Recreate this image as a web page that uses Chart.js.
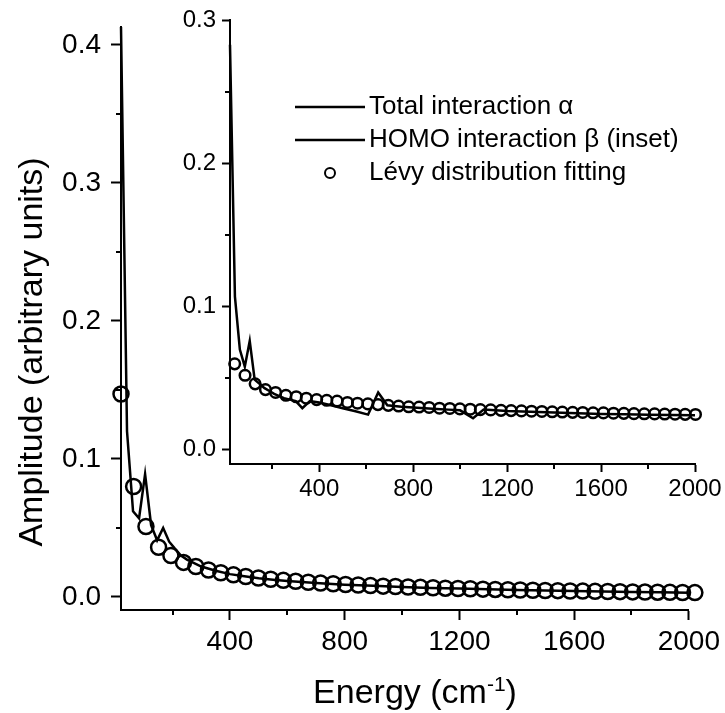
<!DOCTYPE html>
<html>
<head>
<meta charset="utf-8">
<script src="https://cdn.jsdelivr.net/npm/chart.js@4"></script>
<style>
  body { margin: 0; background: #fff; }
  #wrap { position: relative; width: 725px; height: 713px; }
  #chart-main { position: absolute; left: 0; top: 0; }
  #chart-inset { position: absolute; left: 170px; top: 0; }
</style>
</head>
<body>
<div id="wrap">
  <canvas id="chart-main" width="725" height="713"></canvas>
  <canvas id="chart-inset" width="555" height="520"></canvas>
</div>
<script>
const totalLabel = 'Total interaction \u03b1';
const homoLabel = 'HOMO interaction \u03b2 (inset)';
const fitLabel = 'L\u00e9vy distribution fitting';
const xTitle = ['Energy (cm', '-1', ')'];
const yTitle = 'Amplitude (arbitrary units)';

// main panel: total interaction
const totalEnergy = [20, 41, 62, 83, 104, 125, 146, 167, 188, 208, 229, 250, 300, 350, 400, 450, 500,
  550, 600, 700, 800, 900, 1000, 1100, 1200, 1300, 1400, 1500, 1600, 1700, 1800, 1900, 2000];
const totalAmp = [0.413, 0.120, 0.062, 0.057, 0.089, 0.052, 0.041, 0.050, 0.040, 0.035, 0.030, 0.027,
  0.022, 0.019, 0.0165, 0.015, 0.0135, 0.0125, 0.0115, 0.010, 0.0088, 0.008, 0.0072, 0.0065, 0.006,
  0.0055, 0.005, 0.0046, 0.0042, 0.0039, 0.0036, 0.0033, 0.003];

const fitEnergy = [20, 64, 107, 151, 194, 238, 281, 325, 368, 412, 455, 499, 542, 586, 629, 673, 716,
  760, 803, 847, 890, 934, 977, 1021, 1064, 1108, 1151, 1195, 1238, 1282, 1325, 1369, 1412, 1456, 1499,
  1543, 1586, 1630, 1673, 1717, 1760, 1804, 1847, 1891, 1934, 1978, 2021];
const fitAmp = [0.147, 0.080, 0.051, 0.036, 0.030, 0.025, 0.022, 0.0195, 0.0175, 0.016, 0.0148, 0.0137,
  0.0128, 0.012, 0.0113, 0.0106, 0.0100, 0.0095, 0.0090, 0.0086, 0.0082, 0.0078, 0.0075, 0.0072, 0.0069,
  0.0066, 0.0063, 0.0061, 0.0059, 0.0056, 0.0054, 0.0052, 0.0050, 0.0048, 0.0046, 0.0045, 0.0043, 0.0042,
  0.0040, 0.0039, 0.0038, 0.0036, 0.0035, 0.0034, 0.0033, 0.0032, 0.0031];

// inset: HOMO interaction
const homoEnergy = [20, 41, 62, 83, 104, 125, 146, 167, 188, 208, 250, 300, 328, 360, 400, 450, 500, 550,
  608, 651, 690, 750, 800, 850, 900, 950, 1000, 1055, 1100, 1150, 1200, 1300, 1400, 1500, 1600, 1700,
  1800, 1900, 2000];
const homoAmp = [0.283, 0.107, 0.070, 0.058, 0.076, 0.049, 0.046, 0.043, 0.041, 0.039, 0.036, 0.034,
  0.029, 0.034, 0.033, 0.031, 0.029, 0.027, 0.0245, 0.040, 0.031, 0.030, 0.0295, 0.029, 0.0285, 0.028,
  0.0275, 0.022, 0.028, 0.0275, 0.027, 0.0265, 0.026, 0.0255, 0.025, 0.0248, 0.0245, 0.0243, 0.024];

const homoFitEnergy = [40, 84, 127, 171, 214, 258, 302, 345, 389, 432, 476, 520, 563, 607, 650, 694, 738,
  781, 825, 868, 912, 956, 999, 1043, 1086, 1130, 1174, 1217, 1261, 1304, 1348, 1392, 1435, 1479, 1522,
  1566, 1610, 1653, 1697, 1740, 1784, 1828, 1871, 1915, 1958, 2002];
const homoFitAmp = [0.060, 0.052, 0.046, 0.042, 0.040, 0.038, 0.037, 0.036, 0.035, 0.0345, 0.034, 0.033,
  0.0325, 0.032, 0.0315, 0.031, 0.0305, 0.030, 0.0298, 0.0295, 0.029, 0.0288, 0.0285, 0.0283, 0.028,
  0.0278, 0.0275, 0.0273, 0.0271, 0.0269, 0.0267, 0.0265, 0.0263, 0.0261, 0.026, 0.0258, 0.0257, 0.0255,
  0.0254, 0.0252, 0.0251, 0.025, 0.0249, 0.0248, 0.0247, 0.0246];

// ticks
const xMajor = [400, 800, 1200, 1600, 2000];
const xMinor = [200, 600, 1000, 1400, 1800];
const yMajorMain = [0, 0.1, 0.2, 0.3, 0.4];
const yMinorMain = [0.05, 0.15, 0.25, 0.35];
const yMajorInset = [0, 0.1, 0.2, 0.3];
const yMinorInset = [0.05, 0.15, 0.25];

const font = 'Liberation Sans, Arial, sans-serif';

function pts(xs, ys) {
  return xs.map((x, i) => ({ x: x, y: ys[i] }));
}

// short unlabelled ticks between the labelled ones
const minorTicks = {
  id: 'minorTicks',
  afterDraw(chart, args, opts) {
    const ctx = chart.ctx;
    const xs = chart.scales.x, ys = chart.scales.y;
    ctx.save();
    ctx.strokeStyle = '#000';
    ctx.lineWidth = 2;
    opts.x.forEach(v => {
      const px = Math.round(xs.getPixelForValue(v));
      ctx.beginPath(); ctx.moveTo(px, xs.top); ctx.lineTo(px, xs.top + opts.len); ctx.stroke();
    });
    opts.y.forEach(v => {
      const py = Math.round(ys.getPixelForValue(v));
      ctx.beginPath(); ctx.moveTo(ys.right, py); ctx.lineTo(ys.right - opts.len, py); ctx.stroke();
    });
    ctx.restore();
  }
};

// axis titles, the x one with a superscript
const axisTitles = {
  id: 'axisTitles',
  afterDraw(chart, args, opts) {
    const ctx = chart.ctx;
    ctx.save();
    ctx.fillStyle = '#000';
    ctx.textBaseline = 'alphabetic';
    const big = opts.size + 'px ' + font, small = opts.supSize + 'px ' + font;
    ctx.font = big;
    const w0 = ctx.measureText(xTitle[0]).width, w2 = ctx.measureText(xTitle[2]).width;
    ctx.font = small;
    const w1 = ctx.measureText(xTitle[1]).width;
    let x = opts.xCenter - (w0 + w1 + w2) / 2;
    ctx.textAlign = 'left';
    ctx.font = big; ctx.fillText(xTitle[0], x, opts.xBase); x += w0;
    ctx.font = small; ctx.fillText(xTitle[1], x, opts.xBase - opts.supRise); x += w1;
    ctx.font = big; ctx.fillText(xTitle[2], x, opts.xBase);
    ctx.translate(opts.yBase, opts.yCenter);
    ctx.rotate(-Math.PI / 2);
    ctx.textAlign = 'center';
    ctx.fillText(yTitle, 0, 0);
    ctx.restore();
  }
};

// legend that sits inside the inset
const insetLegend = {
  id: 'insetLegend',
  afterDraw(chart, args, opts) {
    const ctx = chart.ctx;
    ctx.save();
    ctx.font = opts.size + 'px ' + font;
    ctx.fillStyle = '#000';
    ctx.strokeStyle = '#000';
    ctx.lineWidth = 2.5;
    ctx.textBaseline = 'middle';
    opts.items.forEach((it, i) => {
      const y = opts.y + i * opts.gap;
      if (it.type === 'line') {
        ctx.beginPath(); ctx.moveTo(opts.x, y); ctx.lineTo(opts.x + opts.w, y); ctx.stroke();
      } else {
        ctx.lineWidth = 2;
        ctx.beginPath(); ctx.arc(opts.x + opts.w / 2, y, 5, 0, Math.PI * 2); ctx.stroke();
      }
      ctx.fillText(it.text, opts.x + opts.w + 4, y);
    });
    ctx.restore();
  }
};

function axis(min, max, major, size, tickLen, pad, fmt, fit) {
  return {
    type: 'linear',
    min: min,
    max: max,
    afterBuildTicks: s => { s.ticks = major.map(v => ({ value: v })); },
    afterFit: fit,
    ticks: { color: '#000', font: { family: font, size: size }, padding: pad, maxRotation: 0, autoSkip: false, callback: fmt },
    grid: { drawOnChartArea: false, color: '#000', tickColor: '#000', tickLength: tickLen, tickWidth: 2 },
    border: { color: '#000', width: 2 },
    title: { display: false }
  };
}

const mainChart = new Chart(document.getElementById('chart-main'), {
  type: 'scatter',
  data: {
    datasets: [{
      label: totalLabel,
      data: pts(totalEnergy, totalAmp),
      showLine: true,
      borderColor: '#000',
      borderWidth: 2.5,
      pointRadius: 0,
      clip: false
    }, {
      label: fitLabel,
      data: pts(fitEnergy, fitAmp),
      showLine: false,
      pointRadius: 7.5,
      pointBorderWidth: 2.5,
      pointBorderColor: '#000',
      pointBackgroundColor: 'rgba(0,0,0,0)',
      clip: false
    }]
  },
  options: {
    responsive: false,
    animation: false,
    layout: { padding: { top: 27, right: 35, left: 0, bottom: 0 } },
    scales: {
      x: axis(20, 2000, xMajor, 28, 10, 5, v => String(v), s => { s.height = 103; }),
      y: axis(-0.0095, 0.413, yMajorMain, 28, 10, 10, v => v.toFixed(1), s => { s.width = 121; })
    },
    plugins: {
      legend: { display: false },
      tooltip: { enabled: false },
      minorTicks: { x: xMinor, y: yMinorMain, len: 5 },
      axisTitles: { size: 34, supSize: 21, supRise: 12, xCenter: 415, xBase: 703, yBase: 42, yCenter: 352 }
    }
  },
  plugins: [minorTicks, axisTitles]
});

const insetChart = new Chart(document.getElementById('chart-inset'), {
  type: 'scatter',
  data: {
    datasets: [{
      label: homoLabel,
      data: pts(homoEnergy, homoAmp),
      showLine: true,
      borderColor: '#000',
      borderWidth: 2.5,
      pointRadius: 0,
      clip: false
    }, {
      label: fitLabel,
      data: pts(homoFitEnergy, homoFitAmp),
      showLine: false,
      pointRadius: 5.3,
      pointBorderWidth: 2.5,
      pointBorderColor: '#000',
      pointBackgroundColor: 'rgba(0,0,0,0)',
      clip: false
    }]
  },
  options: {
    responsive: false,
    animation: false,
    layout: { padding: { top: 20, right: 30, left: 0, bottom: 0 } },
    scales: {
      x: axis(20, 2000, xMajor, 24, 8, 3, v => String(v), s => { s.height = 56; }),
      y: axis(-0.01, 0.3, yMajorInset, 24, 8, 6, v => v.toFixed(1), s => { s.width = 60; })
    },
    plugins: {
      legend: { display: false },
      tooltip: { enabled: false },
      minorTicks: { x: xMinor, y: yMinorInset, len: 5 },
      insetLegend: {
        items: [
          { text: totalLabel, type: 'line' },
          { text: homoLabel, type: 'line' },
          { text: fitLabel, type: 'circle' }
        ],
        x: 125, y: 107, w: 70, gap: 33, size: 26
      }
    }
  },
  plugins: [minorTicks, insetLegend]
});
</script>
</body>
</html>
